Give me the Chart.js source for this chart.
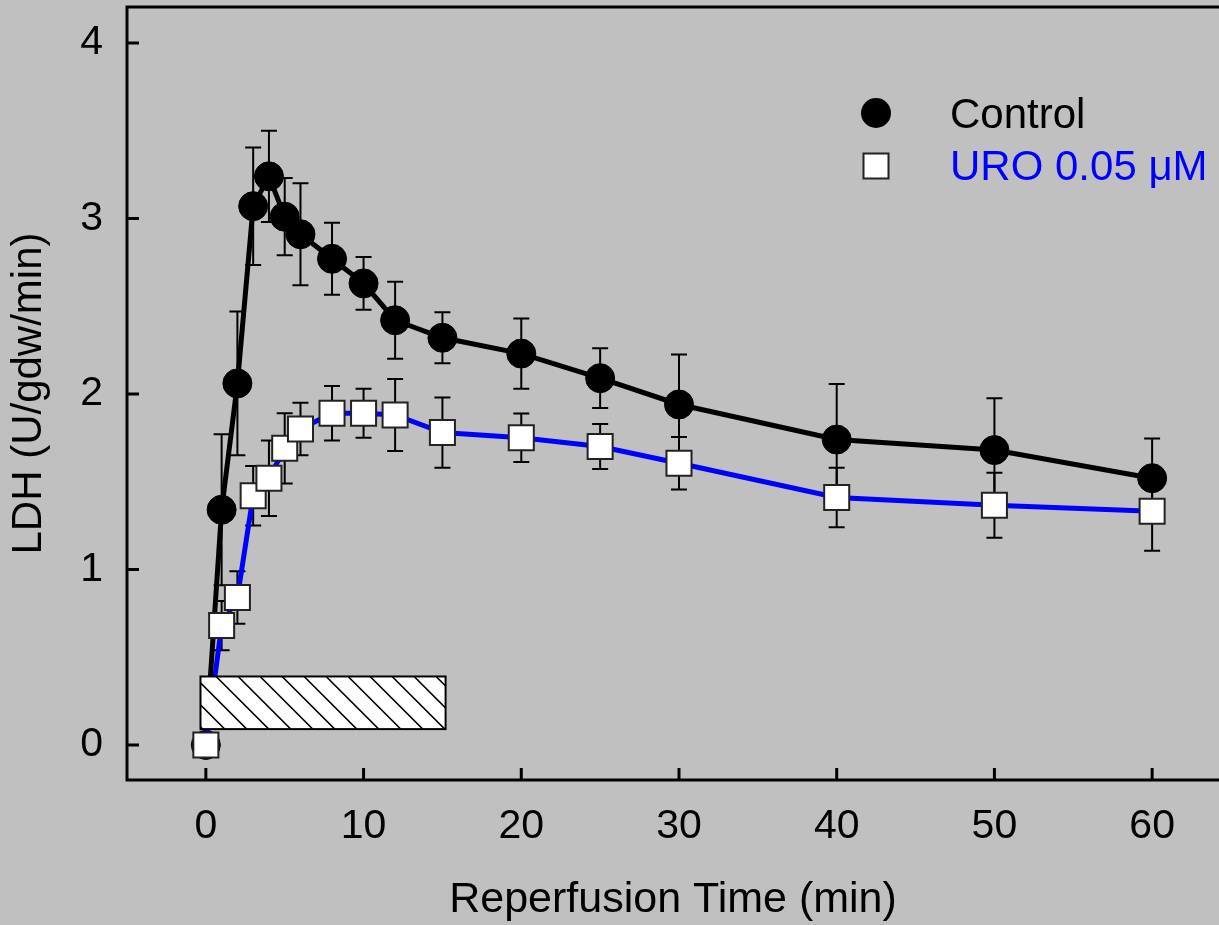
<!DOCTYPE html>
<html>
<head>
<meta charset="utf-8">
<script src="https://cdn.jsdelivr.net/npm/chart.js@4/dist/chart.umd.min.js"></script>
<style>
  html, body { margin: 0; padding: 0; background: #c0c0c0; overflow: hidden; }
  canvas { display: block; }
</style>
</head>
<body>
<canvas id="myChart" width="1219" height="925"></canvas>
<script>
// reperfusion time points (min)
const times = [0, 1, 2, 3, 4, 5, 6, 8, 10, 12, 15, 20, 25, 30, 40, 50, 60];

const controlVals = [0, 1.34, 2.06, 3.07, 3.24, 3.01, 2.91, 2.77, 2.63, 2.42, 2.32, 2.23, 2.09, 1.94, 1.74, 1.68, 1.52];
const controlErr  = [0, 0.43, 0.41, 0.335, 0.26, 0.22, 0.29, 0.205, 0.15, 0.22, 0.145, 0.2, 0.17, 0.285, 0.316, 0.295, 0.226];

const uroVals = [0, 0.68, 0.84, 1.42, 1.52, 1.69, 1.80, 1.89, 1.89, 1.88, 1.78, 1.75, 1.70, 1.605, 1.41, 1.366, 1.332];
const uroErr  = [0, 0.14, 0.15, 0.17, 0.215, 0.2, 0.15, 0.155, 0.14, 0.205, 0.2, 0.138, 0.128, 0.15, 0.17, 0.185, 0.225];

const xTicks = [0, 10, 20, 30, 40, 50, 60];
const yTicks = [0, 1, 2, 3, 4];

// hatched bar: drug infusion period (min) and its vertical extent
const infusionSpan = [-0.34, 15.2];
const infusionLevel = [0.09, 0.39];

const FONT = '"Liberation Sans", Arial, sans-serif';

const decor = {
    id: 'decor',
    beforeDraw(chart) {
        const ctx = chart.ctx;
        ctx.save();
        ctx.fillStyle = '#c0c0c0';
        ctx.fillRect(0, 0, chart.width, chart.height);
        ctx.restore();
    },
    beforeDatasetsDraw(chart) {
        // error bars under the markers
        const { ctx, scales: { x, y } } = chart;
        ctx.save();
        ctx.strokeStyle = '#000';
        ctx.lineWidth = 2;
        [[controlVals, controlErr], [uroVals, uroErr]].forEach(([vals, errs]) => {
            times.forEach((t, i) => {
                if (!errs[i]) return;
                const px = x.getPixelForValue(t);
                const top = y.getPixelForValue(vals[i] + errs[i]);
                const bot = y.getPixelForValue(vals[i] - errs[i]);
                ctx.beginPath();
                ctx.moveTo(px, top); ctx.lineTo(px, bot);
                ctx.moveTo(px - 8, top); ctx.lineTo(px + 8, top);
                ctx.moveTo(px - 8, bot); ctx.lineTo(px + 8, bot);
                ctx.stroke();
            });
        });
        ctx.restore();
    },
    afterDatasetsDraw(chart) {
        const { ctx, scales: { x, y } } = chart;
        const x0 = x.getPixelForValue(infusionSpan[0]);
        const x1 = x.getPixelForValue(infusionSpan[1]);
        const y0 = y.getPixelForValue(infusionLevel[1]);
        const y1 = y.getPixelForValue(infusionLevel[0]);
        const h = y1 - y0;
        ctx.save();
        ctx.fillStyle = '#fff';
        ctx.fillRect(x0, y0, x1 - x0, h);
        ctx.beginPath();
        ctx.rect(x0, y0, x1 - x0, h);
        ctx.clip();
        ctx.beginPath();
        ctx.strokeStyle = '#000';
        ctx.lineWidth = 1.5;
        for (let sx = x0 + 15.6 - 22 * 3; sx < x1; sx += 22) {
            ctx.moveTo(sx, y0);
            ctx.lineTo(sx + h, y1);
        }
        ctx.stroke();
        ctx.restore();
        ctx.save();
        ctx.strokeStyle = '#000';
        ctx.lineWidth = 2;
        ctx.strokeRect(x0, y0, x1 - x0, h);
        ctx.restore();
    },
    afterDraw(chart) {
        const { ctx, chartArea: ca, scales: { x, y } } = chart;
        ctx.save();
        ctx.strokeStyle = '#000';
        ctx.lineWidth = 3;
        ctx.beginPath();
        ctx.moveTo(chart.width, ca.top);
        ctx.lineTo(ca.left, ca.top);
        ctx.lineTo(ca.left, ca.bottom);
        ctx.lineTo(chart.width, ca.bottom);
        ctx.stroke();

        // inward tick marks
        ctx.beginPath();
        yTicks.forEach(v => {
            const py = y.getPixelForValue(v);
            ctx.moveTo(ca.left, py); ctx.lineTo(ca.left + 12, py);
        });
        xTicks.forEach(v => {
            const px = x.getPixelForValue(v);
            ctx.moveTo(px, ca.bottom); ctx.lineTo(px, ca.bottom - 12);
        });
        ctx.stroke();

        // legend
        const ds = chart.data.datasets;
        const mx = 876, tx = 950;
        ctx.fillStyle = '#000';
        ctx.beginPath();
        ctx.arc(mx, 113, 15, 0, Math.PI * 2);
        ctx.fill();
        ctx.fillStyle = '#fff';
        ctx.fillRect(mx - 12.5, 166 - 12.5, 25, 25);
        ctx.strokeStyle = '#222';
        ctx.lineWidth = 2;
        ctx.strokeRect(mx - 12.5, 166 - 12.5, 25, 25);

        ctx.font = '42px ' + FONT;
        ctx.textAlign = 'left';
        ctx.textBaseline = 'alphabetic';
        ctx.fillStyle = '#000';
        ctx.fillText(ds[0].label, tx, 128);
        ctx.fillStyle = '#0000ff';
        ctx.fillText(ds[1].label, tx, 180);
        ctx.restore();
    }
};

function toPoints(vals) {
    return times.map((t, i) => ({ x: t, y: vals[i] }));
}

new Chart(document.getElementById('myChart'), {
    type: 'line',
    data: {
        datasets: [
            {
                label: 'Control',
                data: toPoints(controlVals),
                borderColor: '#000',
                borderWidth: 5,
                pointStyle: 'circle',
                pointRadius: 14.5,
                pointBackgroundColor: '#000',
                pointBorderColor: '#000',
                pointBorderWidth: 1,
                order: 2
            },
            {
                label: 'URO 0.05 μM',
                data: toPoints(uroVals),
                borderColor: '#0000ff',
                borderWidth: 5,
                pointStyle: 'rect',
                pointRadius: 17.7,
                pointBackgroundColor: '#fff',
                pointBorderColor: '#222',
                pointBorderWidth: 2,
                order: 1
            }
        ]
    },
    options: {
        responsive: false,
        animation: false,
        layout: { autoPadding: false, padding: { top: 7, right: 0, left: 0, bottom: 0 } },
        plugins: {
            legend: { display: false },
            tooltip: { enabled: false }
        },
        scales: {
            x: {
                type: 'linear',
                min: -5,
                max: 64.24,
                afterBuildTicks: s => { s.ticks = xTicks.map(v => ({ value: v })); },
                afterFit: s => { s.height = 145; s.paddingLeft = 0; s.paddingRight = 0; },
                grid: { display: false, drawTicks: false },
                border: { display: false },
                ticks: {
                    font: { family: FONT, size: 41 },
                    color: '#000',
                    padding: 22,
                    maxRotation: 0,
                    autoSkip: false
                },
                title: {
                    display: true,
                    text: 'Reperfusion Time (min)',
                    font: { family: FONT, size: 43, lineHeight: 1 },
                    color: '#000',
                    padding: { top: 0, bottom: 3 }
                }
            },
            y: {
                type: 'linear',
                min: -0.2,
                max: 4.205,
                afterBuildTicks: s => { s.ticks = yTicks.map(v => ({ value: v })); },
                afterFit: s => { s.width = 127; s.paddingTop = 0; s.paddingBottom = 0; },
                grid: { display: false, drawTicks: false },
                border: { display: false },
                ticks: {
                    font: { family: FONT, size: 41 },
                    color: '#000',
                    padding: 24
                },
                title: {
                    display: true,
                    text: 'LDH (U/gdw/min)',
                    font: { family: FONT, size: 42, lineHeight: 1 },
                    color: '#000',
                    padding: { top: 8, bottom: 0 }
                }
            }
        }
    },
    plugins: [decor]
});
</script>
</body>
</html>
